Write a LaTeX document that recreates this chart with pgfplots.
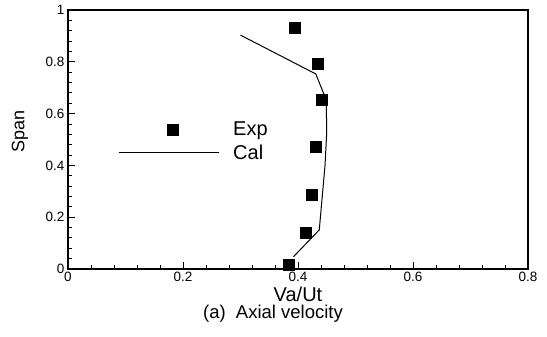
\documentclass[border=0pt]{standalone}
\usepackage{pgfplots}
\pgfplotsset{compat=1.18}
\usepackage{fontspec}
\setmainfont{Liberation Sans}
\pgfplotsset{
  explegend/.style={legend image code/.code={\path[draw=none, fill=none] (0bp,-1bp) rectangle (100bp,1bp);
      \draw[black, mark=square*, mark size=5.5bp, only marks] plot coordinates {(54bp,0bp)};}},
  callegend/.style={legend image code/.code={\draw[black, line width=1bp] (0bp,0bp) -- (100bp,0bp);}},
}
\begin{document}
\begin{tikzpicture}
\useasboundingbox (-68bp,-68bp) rectangle (479bp,269bp);
\begin{axis}[
  scale only axis, width=460bp, height=259bp,
  xmin=0, xmax=0.8, ymin=0, ymax=1,
  xtick={0,0.2,0.4,0.6,0.8}, ytick={0,0.2,0.4,0.6,0.8,1},
  minor tick num=4,
  tick pos=left, tick align=inside,
  major tick length=7bp, minor tick length=4bp,
  axis line style={line width=1.2bp},
  every tick/.style={black, line width=0.9bp},
  tick label style={font=\fontsize{13.5bp}{15bp}\selectfont},
  /pgf/number format/assume math mode=true,
  xlabel={Va/Ut}, ylabel={Span},
  xlabel style={font=\fontsize{20bp}{23bp}\selectfont, at={(axis description cs:0.5,0)}, anchor=center, yshift=-25bp},
  ylabel style={font=\fontsize{18bp}{21bp}\selectfont, at={(axis description cs:0,0.53)}, anchor=center, yshift=48bp},
  legend style={draw=none, fill=none, at={(axis cs:0.087,0.493)}, anchor=west,
    inner sep=0pt, font=\fontsize{20bp}{23bp}\selectfont, row sep=4bp,
    /tikz/every odd column/.append style={column sep=12bp}},
  legend cell align=left,
]
\addplot[only marks, mark=square*, mark size=5.5bp, black, explegend]
  coordinates {
  (0.395,0.933) (0.434,0.794) (0.441,0.652) (0.431,0.472)
  (0.424,0.288) (0.413,0.140) (0.384,0.015)
};
\addlegendentry{Exp}
\addplot[black, line width=1bp, mark=none, callegend]
  coordinates {
  (0.300,0.903) (0.431,0.753) (0.449,0.653) (0.450,0.530)
  (0.447,0.400) (0.437,0.151) (0.392,0.047)
};
\addlegendentry{Cal}
\end{axis}
\node[font=\fontsize{18.5bp}{21bp}\selectfont, anchor=center] at (205bp,-45bp) {(a)\ \ Axial velocity};
\end{tikzpicture}
\end{document}
